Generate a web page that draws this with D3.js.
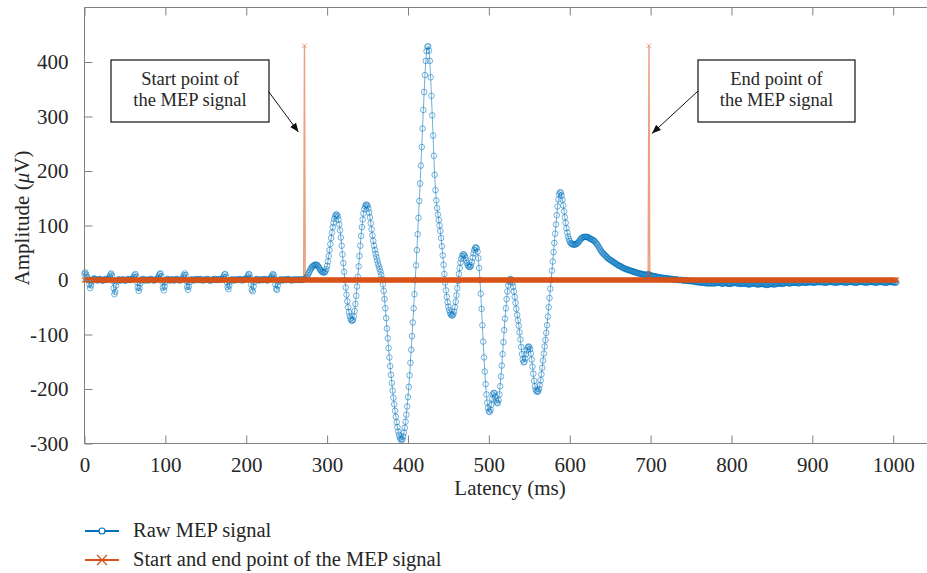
<!DOCTYPE html>
<html>
<head>
<meta charset="utf-8">
<script src="https://cdn.jsdelivr.net/npm/d3@7"></script>
<style>
  html, body { margin: 0; padding: 0; background: #fff; }
  svg { display: block; font-family: "Liberation Serif", "DejaVu Serif", serif; }
</style>
</head>
<body>
<svg id="chart" width="927" height="573"></svg>
<script>
// ---------------- DATA ----------------
// Raw MEP signal (µV), one sample per ms starting at 0 ms
const rawSignal = [
  12,14,10,6,3,0,-8,-15,-10,-3,        // 0
  0,2,3,2,1,0,-1,0,1,2,
  1,0,-1,-1,0,1,2,1,0,1,
  3,6,10,12,8,-2,-15,-26,-22,-10,
  -3,0,1,1,0,-1,0,1,1,0,
  -1,-1,0,1,2,1,0,0,1,2,               // 50
  3,6,9,11,6,-4,-14,-20,-15,-6,
  -1,1,2,1,0,-1,0,1,0,-1,
  0,1,2,1,0,0,-1,0,1,1,
  2,4,8,11,12,7,-3,-14,-19,-12,
  -4,0,1,2,1,0,-1,0,1,1,               // 100
  0,-1,0,1,2,1,0,0,-1,0,
  1,2,5,9,12,9,-2,-13,-18,-12,
  -4,0,1,1,0,-1,0,1,2,1,
  0,0,1,2,1,0,-1,0,1,0,
  0,1,2,1,0,-1,-1,0,1,1,               // 150
  0,1,2,1,0,0,1,2,1,0,
  1,3,6,10,11,6,-4,-13,-17,-10,
  -3,0,1,1,0,-1,0,1,1,0,
  0,1,2,1,0,-1,0,1,2,1,
  2,4,8,11,10,3,-8,-18,-21,-12,        // 200
  -4,0,1,2,1,0,-1,0,1,1,
  0,0,1,2,1,0,-1,0,1,2,
  3,5,8,11,9,2,-8,-16,-18,-10,
  -3,0,1,1,0,-1,0,1,1,0,
  0,1,2,1,0,0,-1,0,1,1,                // 250
  0,0,1,1,0,0,1,1,0,0,
  1,1,1,2,4,6,9,12,15,18,
  21,23,25,26,27,28,28,28,27,25,
  23,20,18,16,15,14,14,14,16,20,
  26,34,44,55,66,77,87,97,105,112,     // 300
  117,120,120,117,111,102,91,78,63,47,
  31,15,0,-14,-27,-39,-50,-59,-66,-71,
  -74,-75,-73,-67,-57,-44,-29,-12,6,25,
  44,63,81,97,111,122,130,135,138,138,
  136,131,124,115,104,93,82,72,63,55,  // 350
  48,42,36,30,25,20,15,9,2,-8,
  -20,-35,-52,-70,-89,-107,-125,-142,-158,-174,
  -189,-203,-216,-228,-240,-251,-261,-270,-278,-284,
  -289,-292,-294,-292,-287,-280,-271,-260,-247,-232,
  -215,-196,-175,-152,-128,-103,-78,-52,-26,0,   // 400
  27,55,84,114,145,177,210,244,278,312,
  345,376,402,420,428,429,421,402,372,338,
  302,265,228,193,165,146,132,120,110,100,
  90,77,62,45,28,11,-5,-19,-31,-41,
  -49,-55,-60,-63,-65,-65,-63,-58,-50,-40,       // 450
  -28,-15,-2,11,22,32,39,44,47,47,
  45,41,36,31,27,25,24,24,27,33,
  41,49,55,59,60,58,52,40,22,0,
  -25,-53,-83,-113,-142,-168,-191,-210,-225,-235,
  -241,-242,-238,-229,-218,-210,-207,-208,-214,-221, // 500
  -225,-226,-220,-210,-195,-177,-157,-136,-114,-92,
  -71,-52,-35,-21,-10,-3,1,2,0,-5,
  -12,-21,-31,-42,-53,-64,-74,-84,-96,-109,
  -123,-136,-146,-151,-150,-144,-136,-129,-124,-122,
  -123,-127,-135,-146,-159,-172,-185,-195,-201,-204, // 550
  -205,-204,-200,-193,-184,-173,-161,-148,-135,-122,
  -110,-97,-83,-67,-50,-33,-16,0,17,34,
  51,68,85,102,119,135,148,157,161,160,
  155,147,137,126,115,105,95,87,80,75,
  71,68,67,66,65,65,65,65,66,67,       // 600
  68,70,72,74,76,77,78,79,79,79,
  79,79,79,78,77,76,75,75,74,73,
  72,71,69,67,65,63,60,58,55,53,
  51,49,48,46,45,43,42,40,39,38,
  37,36,35,34,33,32,31,30,29,28,       // 650
  27,26,26,25,24,23,22,22,21,20,
  20,19,19,18,18,17,17,16,16,15,
  15,14,14,13,13,12,12,12,11,11,
  11,10,10,10,9,9,10,11,10,9,
  8,8,8,7,7,7,6,6,6,5,                 // 700
  5,5,5,4,4,4,4,3,3,3,
  3,3,3,2,2,2,2,2,1,1,
  1,1,1,1,0,0,0,0,0,0,
  -1,-1,-1,-1,-1,-1,-1,-2,-2,-2,
  -2,-2,-2,-3,-3,-3,-3,-4,-4,-4,       // 750
  -4,-4,-5,-5,-5,-5,-5,-5,-6,-6,
  -6,-6,-6,-6,-6,-6,-6,-6,-6,-6,
  -6,-6,-5,-5,-4,-4,-5,-6,-7,-7,
  -6,-6,-5,-5,-6,-6,-7,-7,-7,-7,
  -6,-6,-6,-5,-5,-5,-6,-6,-6,-7,       // 800
  -7,-7,-7,-7,-7,-6,-6,-6,-7,-7,
  -8,-8,-8,-8,-7,-7,-6,-6,-6,-7,
  -7,-8,-8,-8,-8,-8,-7,-7,-7,-7,
  -8,-8,-8,-9,-9,-9,-8,-8,-7,-7,
  -7,-8,-8,-8,-8,-7,-7,-7,-6,-6,       // 850
  -6,-6,-7,-7,-7,-6,-6,-5,-5,-5,
  -6,-6,-6,-6,-6,-5,-5,-5,-5,-5,
  -5,-5,-6,-6,-6,-5,-5,-4,-4,-4,
  -5,-5,-5,-5,-5,-4,-4,-4,-4,-4,
  -4,-5,-5,-5,-4,-4,-4,-3,-3,-4,       // 900
  -4,-4,-4,-4,-4,-5,-5,-5,-4,-4,
  -4,-3,-3,-3,-4,-4,-4,-4,-5,-5,
  -5,-4,-4,-4,-3,-3,-3,-4,-4,-4,
  -4,-5,-5,-4,-4,-4,-3,-3,-3,-4,
  -4,-4,-4,-5,-5,-5,-4,-4,-3,-3,       // 950
  -3,-3,-4,-4,-4,-4,-5,-5,-4,-4,
  -4,-3,-3,-3,-3,-4,-4,-4,-5,-5,
  -4,-4,-4,-3,-3,-3,-4,-4,-4,-4,
  -5,-5,-5,-4,-4,-3,-3,-3,-4,-4,
  -4,-4,-5,-5,-4                       // 1000
];
const sampleIntervalMs = 1;

// Start / end point series: zero everywhere except a spike at the detected points
const startPointMs = 272;
const endPointMs = 698;
const markerHeight = 430;

const xTicks = [0, 100, 200, 300, 400, 500, 600, 700, 800, 900, 1000];
const yTicks = [-300, -200, -100, 0, 100, 200, 300, 400];
const xDomain = [0, 1050];
const yDomain = [-300, 500];

const legendLabels = ["Raw MEP signal", "Start and end point of the MEP signal"];
const annotationStart = ["Start point of", "the MEP signal"];
const annotationEnd = ["End point of", "the MEP signal"];

// ---------------- DRAW ----------------
const blue = "#0072BD";
const orange = "#D95319";
const axisGray = "#808080";
const textColor = "#262626";
const fontFam = "Liberation Serif, DejaVu Serif, serif";

const svg = d3.select("#chart");

const plotLeft = 84.5, plotTop = 7.5, plotBottom = 443.5;
const plotRight = plotLeft + 0.8087 * (xDomain[1] - xDomain[0]);

const x = d3.scaleLinear().domain(xDomain).range([plotLeft, plotRight]);
const y = d3.scaleLinear().domain(yDomain).range([plotBottom, plotTop]);

const signal = rawSignal.map((v, i) => ({ t: i * sampleIntervalMs, v }));
const markers = rawSignal.map((_, i) => {
  const t = i * sampleIntervalMs;
  return { t, v: (t === startPointMs || t === endPointMs) ? markerHeight : 0 };
});

// Blue raw signal: line + circles
const line = d3.line().x(d => x(d.t)).y(d => y(d.v));
svg.append("path")
  .datum(signal)
  .attr("d", line)
  .attr("fill", "none")
  .attr("stroke", blue)
  .attr("stroke-opacity", 0.7)
  .attr("stroke-width", 0.8);

svg.append("g")
  .selectAll("circle")
  .data(signal)
  .join("circle")
  .attr("cx", d => x(d.t))
  .attr("cy", d => y(d.v))
  .attr("r", 2.8)
  .attr("fill", "none")
  .attr("stroke", blue)
  .attr("stroke-opacity", 0.72)
  .attr("stroke-width", 0.75);

// Orange start/end series: line + x markers
svg.append("path")
  .datum(markers)
  .attr("d", line)
  .attr("fill", "none")
  .attr("stroke", orange)
  .attr("stroke-opacity", 0.55)
  .attr("stroke-width", 1.4);

const xm = 2.4;
svg.append("g")
  .selectAll("path")
  .data(markers)
  .join("path")
  .attr("d", d => {
    const cx = x(d.t), cy = y(d.v);
    return `M${cx - xm},${cy - xm}L${cx + xm},${cy + xm}M${cx - xm},${cy + xm}L${cx + xm},${cy - xm}`;
  })
  .attr("fill", "none")
  .attr("stroke", orange)
  .attr("stroke-opacity", d => d.v > 0 ? 0.6 : 0.85)
  .attr("stroke-width", d => d.v > 0 ? 0.8 : 1.1);

// Axes box
const axG = svg.append("g").attr("stroke", axisGray).attr("stroke-width", 1).attr("fill", "none");
axG.append("line").attr("x1", plotLeft).attr("x2", plotLeft).attr("y1", plotTop).attr("y2", plotBottom);
axG.append("line").attr("x1", plotLeft).attr("x2", plotRight).attr("y1", plotBottom).attr("y2", plotBottom);
axG.append("line").attr("x1", plotLeft).attr("x2", plotRight).attr("y1", plotTop).attr("y2", plotTop);
axG.append("line").attr("x1", plotRight).attr("x2", plotRight).attr("y1", plotTop).attr("y2", plotBottom);

// Bottom axis using d3.axisBottom (inward ticks)
const xAxis = d3.axisBottom(x).tickValues(xTicks).tickSize(-8).tickPadding(14).tickFormat(d3.format("d"));
const gx = svg.append("g").attr("transform", `translate(0,${plotBottom})`).call(xAxis);
gx.select(".domain").remove();
gx.selectAll(".tick line").attr("stroke", axisGray);
gx.selectAll(".tick text").attr("fill", textColor).attr("font-size", 21).attr("font-family", fontFam);

// Top mirror ticks
const gxt = svg.append("g").attr("transform", `translate(0,${plotTop})`)
  .call(d3.axisTop(x).tickValues(xTicks).tickSize(-8).tickFormat(""));
gxt.select(".domain").remove();
gxt.selectAll(".tick line").attr("stroke", axisGray);

// Left axis
const yAxis = d3.axisLeft(y).tickValues(yTicks).tickSize(-8).tickPadding(16)
  .tickFormat(d => d < 0 ? "-" + Math.abs(d) : String(d));
const gy = svg.append("g").attr("transform", `translate(${plotLeft},0)`).call(yAxis);
gy.select(".domain").remove();
gy.selectAll(".tick line").attr("stroke", axisGray);
gy.selectAll(".tick text").attr("fill", textColor).attr("font-size", 21).attr("font-family", fontFam);

// Axis labels
svg.append("text")
  .attr("x", 510).attr("y", 495)
  .attr("text-anchor", "middle")
  .attr("font-size", 21)
  .attr("fill", textColor)
  .text("Latency (ms)");

const yl = svg.append("text")
  .attr("transform", "translate(29,218) rotate(-90)")
  .attr("text-anchor", "middle")
  .attr("font-size", 21)
  .attr("fill", textColor);
yl.append("tspan").text("Amplitude (");
yl.append("tspan").attr("font-style", "italic").text("\u03BC");
yl.append("tspan").text("V)");

// Annotations
svg.append("defs").append("marker")
  .attr("id", "arrow")
  .attr("viewBox", "0 0 10 10")
  .attr("refX", 10).attr("refY", 5)
  .attr("markerWidth", 9).attr("markerHeight", 9)
  .attr("markerUnits", "userSpaceOnUse")
  .attr("orient", "auto")
  .append("path").attr("d", "M0,1L10,5L0,9Z").attr("fill", "#111");

function annotation(box, lines, from, to) {
  const g = svg.append("g");
  g.append("rect")
    .attr("x", box[0]).attr("y", box[1])
    .attr("width", box[2]).attr("height", box[3])
    .attr("fill", "#fff").attr("stroke", "#222").attr("stroke-width", 1.3);
  lines.forEach((s, i) => {
    g.append("text")
      .attr("x", box[0] + box[2] / 2)
      .attr("y", box[1] + 25 + i * 21)
      .attr("text-anchor", "middle")
      .attr("font-size", 18.5)
      .attr("fill", textColor)
      .text(s);
  });
  g.append("line")
    .attr("x1", from[0]).attr("y1", from[1])
    .attr("x2", to[0]).attr("y2", to[1])
    .attr("stroke", "#111").attr("stroke-width", 1)
    .attr("marker-end", "url(#arrow)");
}
annotation([111, 60, 158, 62], annotationStart, [268.5, 91.5], [x(startPointMs) - 6, 132]);
annotation([698, 60, 157, 62], annotationEnd, [698, 91], [x(endPointMs) + 3, 133.5]);

// Legend
const legend = svg.append("g");
const legY = [531, 560];
legend.append("line").attr("x1", 85).attr("x2", 119).attr("y1", legY[0]).attr("y2", legY[0])
  .attr("stroke", blue).attr("stroke-width", 2);
legend.append("circle").attr("cx", 102).attr("cy", legY[0]).attr("r", 3)
  .attr("fill", "#fff").attr("stroke", blue).attr("stroke-width", 1.2);
legend.append("line").attr("x1", 85).attr("x2", 119).attr("y1", legY[1]).attr("y2", legY[1])
  .attr("stroke", orange).attr("stroke-width", 2);
legend.append("path")
  .attr("d", `M${102 - 5},${legY[1] - 5}L${102 + 5},${legY[1] + 5}M${102 - 5},${legY[1] + 5}L${102 + 5},${legY[1] - 5}`)
  .attr("stroke", orange).attr("stroke-width", 1.3);
legendLabels.forEach((s, i) => {
  legend.append("text")
    .attr("x", 133).attr("y", legY[i] + 6)
    .attr("font-size", 20.5)
    .attr("fill", textColor)
    .text(s);
});
</script>
</body>
</html>
